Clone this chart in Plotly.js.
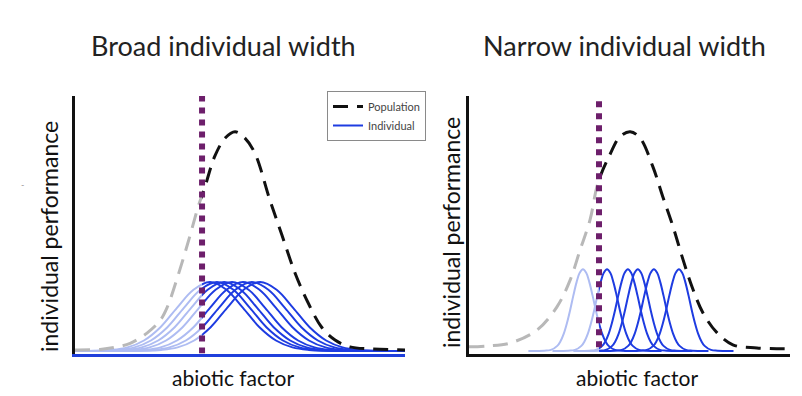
<!DOCTYPE html>
<html><head><meta charset="utf-8">
<script src="https://cdn.plot.ly/plotly-3.0.1.min.js"></script>
<style>html,body{margin:0;padding:0;background:#fff}</style>
</head><body><div id="chart" style="width:802px;height:396px"></div>
<script>
// ---------------- data ----------------
const panelTitles = ['Broad individual width', 'Narrow individual width'];
const xAxisLabel = 'abiotic factor';
const yAxisLabel = 'individual performance';
const legendNames = ['Population', 'Individual'];

// abiotic factor value of the dotted threshold line (0-100 scale)
const broadThreshold = 38.5;
const narrowThreshold = 40.5;

// population performance curve, broad panel
const broadPopX = [0, 7.6, 12.1, 16.7, 21.8, 25.8, 27.9, 31.8, 34.8, 37.3, 39.4, 42.4, 45.5, 48.5, 51.5, 54.5, 59.1, 62.7, 66.7, 70.6, 74.8, 78.8, 83.3, 89.4, 100];
const broadPopY = [0.004, 0.006, 0.014, 0.03, 0.07, 0.12, 0.17, 0.32, 0.45, 0.565, 0.645, 0.765, 0.835, 0.86, 0.835, 0.776, 0.59, 0.455, 0.305, 0.19, 0.092, 0.043, 0.016, 0.008, 0.004];

// population performance curve, narrow panel
const narrowPopX = [0, 6, 12.8, 21.2, 27.4, 31.5, 34.6, 37.7, 40.2, 43.9, 47.0, 50.2, 53.3, 57.3, 60.4, 63.6, 66.7, 69.5, 72.9, 77.3, 82.2, 89.7, 100];
const narrowPopY = [0.016, 0.02, 0.031, 0.082, 0.173, 0.278, 0.396, 0.514, 0.66, 0.77, 0.84, 0.86, 0.835, 0.722, 0.604, 0.486, 0.357, 0.251, 0.149, 0.071, 0.024, 0.012, 0.008];

// individual curves: optimum of each individual + one shared curve profile
const broadCentres = [40.9, 43.0, 45.2, 47.6, 50.9, 53.6, 56.1];
const broadOffset = [-45, -35, -30, -25, -20, -15, -10, -5, 0, 5, 10, 15, 20, 25, 30, 35, 45];
const broadHeight = [0, 0.001, 0.004, 0.014, 0.041, 0.093, 0.169, 0.240, 0.270, 0.240, 0.169, 0.093, 0.041, 0.014, 0.004, 0.001, 0];

const narrowCentres = [35.5, 43.0, 49.5, 52.6, 57.6, 65.4];
const narrowOffset = [-17, -12, -10, -8, -7, -6, -5, -4, -3, -2, -1, 0, 1, 2, 3, 4, 5, 6, 7, 8, 10, 12, 17];
const narrowHeight = [0, 0.001, 0.004, 0.020, 0.038, 0.067, 0.109, 0.160, 0.217, 0.269, 0.307, 0.320, 0.307, 0.269, 0.217, 0.160, 0.109, 0.067, 0.038, 0.020, 0.004, 0.001, 0];

// ---------------- layout helpers ----------------
const W = 802, H = 396;
const FONT = 'Lato, "Open Sans", sans-serif';
const darkBlue = '#1e3ce1', lightBlue = '#aebcf2';
const popGrey = '#b8b8b8', popBlack = '#111111';
const purple = '#6d1f6b';

const domL = [75 / W, 405 / W];
const domR = [469 / W, 790 / W];
const domY = [1 - 353.5 / H, 1 - 96 / H];
function splitDom(dom, thr) {
  const p = dom[0] + (dom[1] - dom[0]) * thr / 100;
  return [[dom[0], p], [p, dom[1]]];
}
const sL = splitDom(domL, broadThreshold);
const sR = splitDom(domR, narrowThreshold);

const hidden = {visible: false, fixedrange: true};
function mainX(dom, lineColor, anchor) {
  return {domain: dom, range: [0, 100], anchor: anchor, showline: true, linecolor: lineColor, linewidth: 3,
    showticklabels: false, ticks: '', showgrid: false, zeroline: false, fixedrange: true};
}
function mainY(anchor) {
  return {domain: domY, range: [-0.01, 1], anchor: anchor, showline: true, linecolor: '#111', linewidth: 3,
    showticklabels: false, ticks: '', showgrid: false, zeroline: false, fixedrange: true};
}

const traces = [];
function addPanel(centres, offset, height, popX, popY, thr, xLeft, xRight, yax, withLegend) {
  centres.forEach((c, i) => {
    const xs = offset.map(o => c + o);
    traces.push({x: xs, y: height, xaxis: xLeft, yaxis: yax, mode: 'lines',
      line: {color: lightBlue, width: 2, shape: 'spline'}, showlegend: false, hoverinfo: 'skip'});
    traces.push({x: xs, y: height, xaxis: xRight, yaxis: yax, mode: 'lines',
      line: {color: darkBlue, width: 2, shape: 'spline'},
      name: legendNames[1], showlegend: withLegend && i === 0, legendrank: 2, hoverinfo: 'skip'});
  });
  traces.push({x: popX, y: popY, xaxis: xLeft, yaxis: yax, mode: 'lines',
    line: {color: popGrey, width: 3, dash: '15px,9px', shape: 'spline'}, showlegend: false, hoverinfo: 'skip'});
  traces.push({x: popX, y: popY, xaxis: xRight, yaxis: yax, mode: 'lines',
    line: {color: popBlack, width: 3, dash: '15px,9px', shape: 'spline'},
    name: legendNames[0], showlegend: withLegend, legendrank: 1, hoverinfo: 'skip'});
}
addPanel(broadCentres, broadOffset, broadHeight, broadPopX, broadPopY, broadThreshold, 'x3', 'x4', 'y', true);
addPanel(narrowCentres, narrowOffset, narrowHeight, narrowPopX, narrowPopY, narrowThreshold, 'x5', 'x6', 'y2', false);

const layout = {
  width: W, height: H, autosize: false,
  margin: {l: 0, r: 0, t: 0, b: 0},
  paper_bgcolor: '#ffffff', plot_bgcolor: 'rgba(0,0,0,0)',
  font: {family: FONT, color: '#222'},
  xaxis: mainX(domL, '#1f3fdc', 'y'),
  yaxis: mainY('x'),
  xaxis2: mainX(domR, '#111', 'y2'),
  yaxis2: mainY('x2'),
  xaxis3: Object.assign({domain: sL[0], range: [0, broadThreshold], anchor: 'y'}, hidden),
  xaxis4: Object.assign({domain: sL[1], range: [broadThreshold, 100], anchor: 'y'}, hidden),
  xaxis5: Object.assign({domain: sR[0], range: [0, narrowThreshold], anchor: 'y2'}, hidden),
  xaxis6: Object.assign({domain: sR[1], range: [narrowThreshold, 100], anchor: 'y2'}, hidden),
  showlegend: true,
  legend: {x: 327 / W, y: 1 - 91 / H, xanchor: 'left', yanchor: 'top',
    bgcolor: '#ffffff', bordercolor: '#8a8a8a', borderwidth: 1,
    font: {family: FONT, size: 11, color: '#444'}, itemwidth: 30, tracegroupgap: 0},
  shapes: [
    {type: 'line', layer: 'above', xref: 'x', yref: 'y', x0: broadThreshold, x1: broadThreshold, y0: -0.01, y1: 1,
      line: {color: purple, width: 6, dash: 'dot'}},
    {type: 'line', layer: 'above', xref: 'x2', yref: 'y2', x0: narrowThreshold, x1: narrowThreshold, y0: 0.015, y1: 1,
      line: {color: purple, width: 6, dash: 'dot'}}
  ],
  annotations: [
    {text: panelTitles[0], xref: 'paper', yref: 'paper', x: 224 / W, y: 1 - 45 / H, xanchor: 'center', yanchor: 'middle',
      showarrow: false, font: {family: FONT, size: 27, color: '#222'}},
    {text: panelTitles[1], xref: 'paper', yref: 'paper', x: 624 / W, y: 1 - 45 / H, xanchor: 'center', yanchor: 'middle',
      showarrow: false, font: {family: FONT, size: 27, color: '#222'}},
    {text: xAxisLabel, xref: 'paper', yref: 'paper', x: 233 / W, y: 1 - 377 / H, xanchor: 'center', yanchor: 'middle',
      showarrow: false, font: {family: FONT, size: 21, color: '#111'}},
    {text: xAxisLabel, xref: 'paper', yref: 'paper', x: 637 / W, y: 1 - 377 / H, xanchor: 'center', yanchor: 'middle',
      showarrow: false, font: {family: FONT, size: 21, color: '#111'}},
    {text: yAxisLabel, xref: 'paper', yref: 'paper', x: 49 / W, y: 1 - 237 / H, xanchor: 'center', yanchor: 'middle',
      textangle: -90, showarrow: false, font: {family: FONT, size: 23, color: '#111'}},
    {text: yAxisLabel, xref: 'paper', yref: 'paper', x: 451 / W, y: 1 - 233 / H, xanchor: 'center', yanchor: 'middle',
      textangle: -90, showarrow: false, font: {family: FONT, size: 23, color: '#111'}},
    {text: '-', xref: 'paper', yref: 'paper', x: 22 / W, y: 1 - 184 / H, xanchor: 'center', yanchor: 'middle',
      showarrow: false, font: {family: FONT, size: 9, color: '#999'}}
  ]
};

Plotly.newPlot('chart', traces, layout, {displayModeBar: false, staticPlot: true});
</script>
</body></html>
